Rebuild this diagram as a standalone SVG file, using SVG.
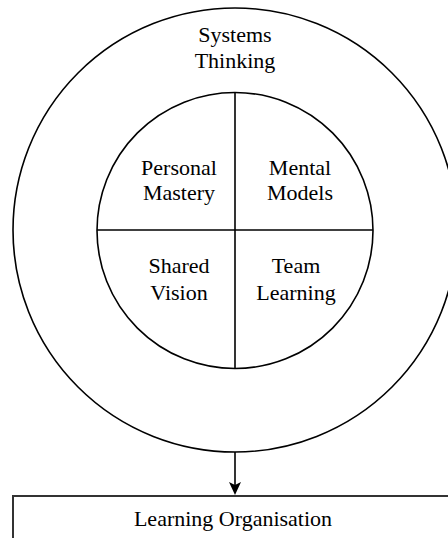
<svg xmlns="http://www.w3.org/2000/svg" width="448" height="538" viewBox="0 0 448 538">
<style>
.ln{fill:none;stroke:#000;stroke-width:1.6}
.t{font-family:"Liberation Serif","Times New Roman",serif;font-size:22px;fill:#000;text-anchor:middle}
</style>
<rect width="448" height="538" fill="#fff"/>
<g id="systems-thinking">
<circle class="ln" cx="235" cy="230" r="222"/>
<text class="t" x="235" y="42">Systems</text>
<text class="t" x="235" y="68">Thinking</text>
</g>
<g id="disciplines">
<circle class="ln" cx="235" cy="230.5" r="138"/>
<line class="ln" x1="235" y1="92.5" x2="235" y2="368.5"/>
<line class="ln" x1="97" y1="230" x2="373" y2="230"/>
</g>
<g id="personal-mastery">
<text class="t" x="179" y="175">Personal</text>
<text class="t" x="179" y="200">Mastery</text>
</g>
<g id="mental-models">
<text class="t" x="300" y="175">Mental</text>
<text class="t" x="300" y="200">Models</text>
</g>
<g id="shared-vision">
<text class="t" x="179" y="273">Shared</text>
<text class="t" x="179" y="300">Vision</text>
</g>
<g id="team-learning">
<text class="t" x="296" y="273">Team</text>
<text class="t" x="296" y="300">Learning</text>
</g>
<g id="learning-organisation">
<rect x="13" y="496" width="450" height="60" fill="#fff" stroke="#333" stroke-width="2"/>
<text class="t" x="233" y="526">Learning Organisation</text>
</g>
<g id="connectors">
<line x1="235" y1="452" x2="235" y2="485" stroke="#000" stroke-width="1.6"/>
<path d="M229,482 L235,485 L241,482 L235,495 Z" fill="#000"/>
</g>
</svg>
